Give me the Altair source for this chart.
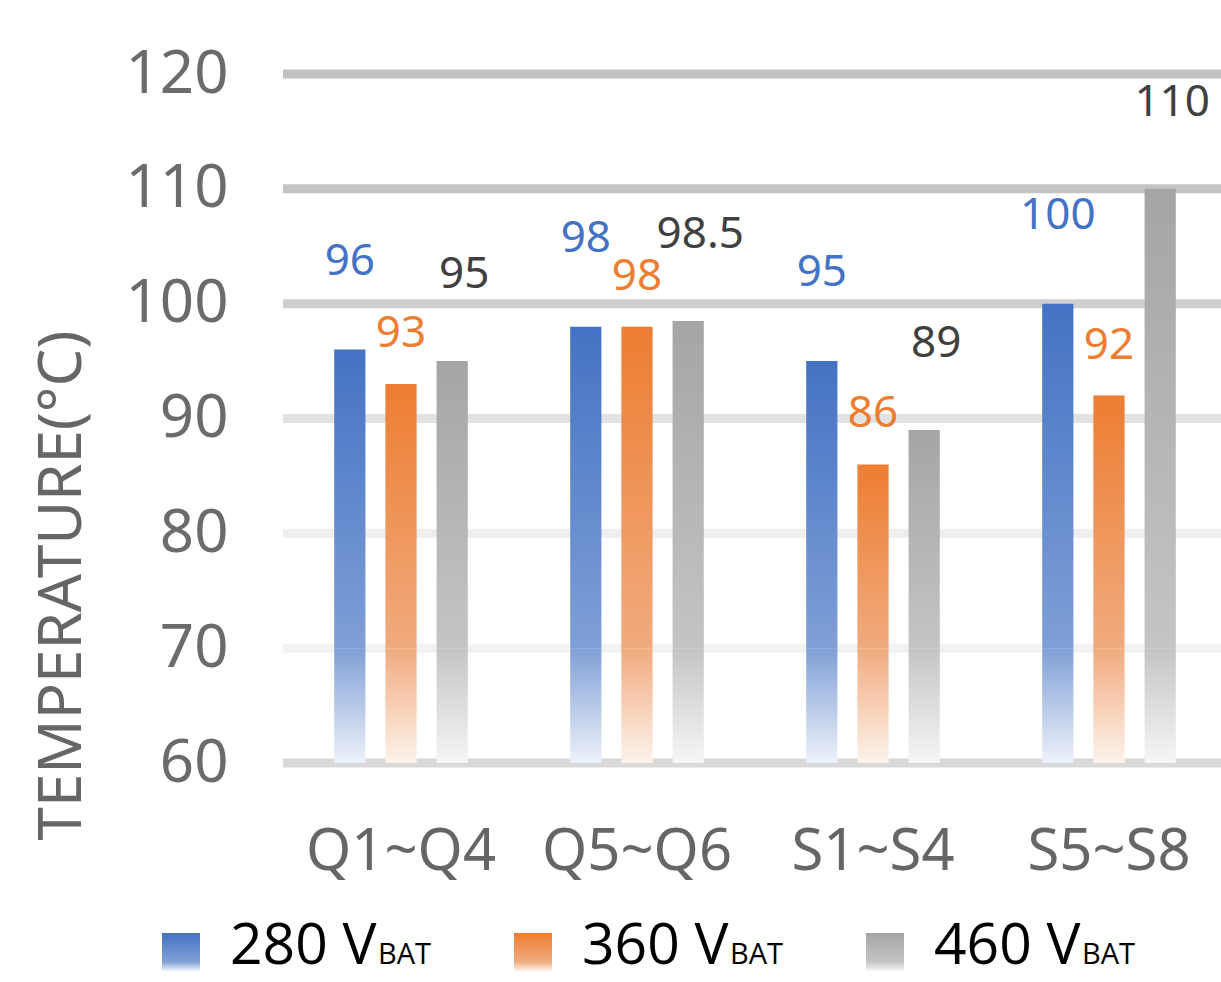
import altair as alt
import pandas as pd

# ---- data -------------------------------------------------------------
categories = ["Q1~Q4", "Q5~Q6", "S1~S4", "S5~S8"]
series = ["280", "360", "460"]
temp_280 = [96, 98, 95, 100]
temp_360 = [93, 98, 86, 92]
temp_460 = [95, 98.5, 89, 110]
y_ticks = [60, 70, 80, 90, 100, 110, 120]

FONT = "Noto Sans"
LEGEND_FONT = "Open Sans"
FADE_FROM = 70  # bars fade out towards white below this temperature

# per-series look: solid colour, colour where the fade starts, fade floor,
# label colour and where the value label sits relative to the bar top
styles = {
    "280": dict(top="#4472C4", mid="#7f9fd6", low="#eef2fa", text="#4472C4", lift=-88, shift=0),
    "360": dict(top="#ED7D31", mid="#f1ab7e", low="#fdf3ec", text="#ED7D31", lift=-50, shift=0),
    "460": dict(top="#A5A5A5", mid="#c4c4c4", low="#f6f6f6", text="#404040", lift=-86, shift=12),
}
grid_colors = ["#d9d9d9", "#f2f2f2", "#eeeeee", "#e2e2e2", "#cecece", "#c4c4c4", "#c2c2c2"]

rows = []
for s, vals in zip(series, [temp_280, temp_360, temp_460]):
    for c, v in zip(categories, vals):
        rows.append({"category": c, "series": s, "value": v, "label": f"{v:g}"})
df = pd.DataFrame(rows)
grid_df = pd.DataFrame({"tick": y_ticks})
legend_df = pd.DataFrame({"series": series,
                          "main": [f"{s} V" for s in series],
                          "sub": ["BAT"] * len(series)})


def vgrad(stops):
    return alt.LinearGradient(
        gradient="linear", x1=0, x2=0, y1=0, y2=1,
        stops=[alt.GradientStop(offset=o, color=c) for o, c in stops],
    )


y_scale = alt.Scale(domain=[60, 120], nice=False, zero=False)
x_enc = alt.X(
    "category:N", sort=categories,
    scale=alt.Scale(range=[0, 944], paddingInner=0, paddingOuter=0),
    axis=alt.Axis(title=None, labelAngle=0, domain=False, ticks=False,
                  labelFont=FONT, labelFontSize=58, labelColor="#666666",
                  labelPadding=60, labelLimit=0),
)
xo_enc = alt.XOffset("series:N", sort=series,
                     scale=alt.Scale(domain=series, paddingInner=0.39, paddingOuter=1))

grid = alt.Chart(grid_df).mark_rule(strokeWidth=9).encode(
    y=alt.Y("tick:Q", scale=y_scale,
            axis=alt.Axis(values=y_ticks, grid=False, domain=False, ticks=False,
                          labelFont=FONT, labelFontSize=60, labelColor="#6b6b6b",
                          labelPadding=55,
                          title="TEMPERATURE(°C)", titleFont=FONT, titleFontSize=60,
                          titleFontWeight="normal", titleColor="#666666",
                          titleAngle=270, titleAlign="center", titleBaseline="middle",
                          titleX=-221, titleY=511)),
    color=alt.Color("tick:O", scale=alt.Scale(domain=y_ticks, range=grid_colors), legend=None),
)

main_layers = [grid]
for s in series:
    st = styles[s]
    base = alt.Chart(df).transform_filter(alt.datum.series == s)
    upper = base.mark_bar(color=vgrad([(0, st["top"]), (1, st["mid"])])).encode(
        x=x_enc, xOffset=xo_enc,
        y=alt.Y("value:Q", scale=y_scale), y2=alt.datum(FADE_FROM),
    )
    lower = base.mark_bar(color=vgrad([(0, st["mid"]), (1, st["low"])])).encode(
        x=x_enc, xOffset=xo_enc,
        y=alt.datum(FADE_FROM), y2=alt.datum(60),
    )
    labels = base.mark_text(font=FONT, fontSize=44, color=st["text"],
                            baseline="middle", dy=st["lift"], dx=st["shift"]).encode(
        x=x_enc, xOffset=xo_enc,
        y=alt.Y("value:Q", scale=y_scale), text="label:N",
    )
    main_layers += [upper, lower, labels]

main = alt.layer(*main_layers)

# legend row under the plot
lx = alt.X("series:N", sort=series,
           scale=alt.Scale(type="point", domain=series, range=[-102, 602], padding=0),
           axis=None)
legend_layers = []
for s in series:
    st = styles[s]
    legend_layers.append(
        alt.Chart(legend_df).transform_filter(alt.datum.series == s)
        .mark_square(size=1444, filled=True, opacity=1,
                     color=vgrad([(0, st["top"]), (0.75, st["mid"]), (1, st["low"])]))
        .encode(x=lx, y=alt.value(878))
    )
legend_layers.append(
    alt.Chart(legend_df).mark_text(align="left", baseline="alphabetic", dx=49,
                                   font=LEGEND_FONT, fontSize=57, color="#000000")
    .encode(x=lx, y=alt.value(890), text="main:N")
)
legend_layers.append(
    alt.Chart(legend_df).mark_text(align="left", baseline="alphabetic", dx=197,
                                   font=LEGEND_FONT, fontSize=29, color="#000000")
    .encode(x=lx, y=alt.value(890), text="sub:N")
)
legend = alt.layer(*legend_layers)

chart = (
    alt.layer(main, legend)
    .resolve_scale(x="independent")
    .properties(width=938, height=689,
                padding={"left": 283, "top": 74, "right": 0, "bottom": 219},
                autosize=alt.AutoSizeParams(type="none"),
                background="white")
    .configure_view(stroke=None)
)

chart.save("out.html", embed_options={"renderer": "svg", "actions": False})
